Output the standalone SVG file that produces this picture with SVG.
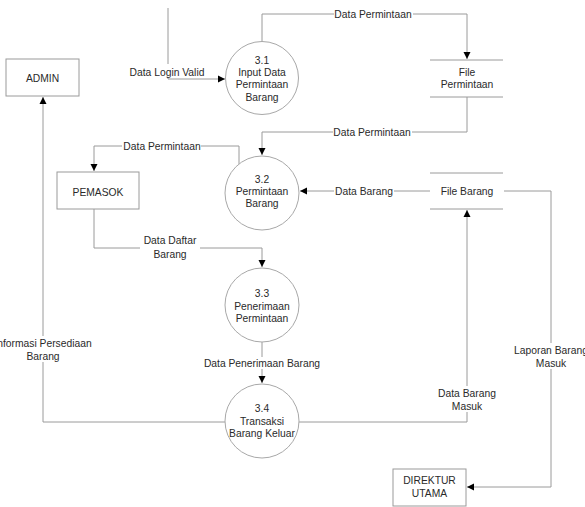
<svg xmlns="http://www.w3.org/2000/svg" width="585" height="507" viewBox="0 0 585 507">
<defs>
<style>
text{font-family:"Liberation Sans",Arial,sans-serif;font-size:10.3px;fill:#2a2a2a;text-anchor:middle}
.ln{fill:none;stroke:#9a9a9a;stroke-width:1}
.proc{fill:#fff;stroke:#a8a8a8;stroke-width:1}
.ent{fill:#fff;stroke:#9a9a9a;stroke-width:1}
.bg{fill:#fff;stroke:none}
</style>
<marker id="ar" markerWidth="8" markerHeight="8" refX="7" refY="4" orient="auto" markerUnits="userSpaceOnUse">
<path d="M0,0.5 L7,4 L0,7.5 Z" fill="#000"/>
</marker>
</defs>
<rect width="585" height="507" fill="#fff"/>
<g id="connectors">
<path class="ln" d="M168,8 V79 H225" marker-end="url(#ar)"/>
<path class="ln" d="M262,42 V14 H467 V59" marker-end="url(#ar)"/>
<path class="ln" d="M467,97 V132 H262 V155" marker-end="url(#ar)"/>
<path class="ln" d="M239,164 V146 H94 V171" marker-end="url(#ar)"/>
<path class="ln" d="M430,191 H300" marker-end="url(#ar)"/>
<path class="ln" d="M94,209 V248 H262 V267" marker-end="url(#ar)"/>
<path class="ln" d="M262,342 V383" marker-end="url(#ar)"/>
<path class="ln" d="M225,422 H43 V97" marker-end="url(#ar)"/>
<path class="ln" d="M299,422 H467 V210" marker-end="url(#ar)"/>
<path class="ln" d="M504,191 H551 V487 H467" marker-end="url(#ar)"/>
<g id="labels">
<rect class="bg" x="128" y="64" width="78" height="13"/>
<text x="167" y="75.5">Data Login Valid</text>
<rect class="bg" x="334" y="8" width="79" height="12"/>
<text x="373" y="17.5">Data Permintaan</text>
<rect class="bg" x="333" y="126" width="79" height="12"/>
<text x="372" y="135.5">Data Permintaan</text>
<rect class="bg" x="122" y="140" width="79" height="12"/>
<text x="162" y="149.5">Data Permintaan</text>
<rect class="bg" x="334" y="185" width="60" height="12"/>
<text x="364" y="194.5">Data Barang</text>
<rect class="bg" x="140" y="234" width="60" height="26"/>
<text x="170" y="243.5">Data Daftar</text>
<text x="170" y="257.5">Barang</text>
<rect class="bg" x="202" y="357" width="120" height="12"/>
<text x="262" y="366.5">Data Penerimaan Barang</text>
<rect class="bg" x="-10" y="336" width="106" height="26"/>
<text x="43" y="346.5">Informasi Persediaan</text>
<text x="43" y="360">Barang</text>
<rect class="bg" x="436" y="386" width="62" height="26"/>
<text x="467" y="396.5">Data Barang</text>
<text x="467" y="410">Masuk</text>
<rect class="bg" x="512" y="343" width="80" height="26"/>
<text x="551" y="353.5">Laporan Barang</text>
<text x="551" y="367">Masuk</text>
</g>
</g>
<g id="admin">
<rect class="ent" x="6" y="59" width="73" height="37"/>
<text x="42.5" y="81.5">ADMIN</text>
</g>
<g id="pemasok">
<rect class="ent" x="57" y="172" width="82" height="37"/>
<text x="98" y="195.5">PEMASOK</text>
</g>
<g id="direktur">
<rect class="ent" x="393" y="469" width="73" height="37"/>
<text x="429.5" y="484">DIREKTUR</text>
<text x="429.5" y="497">UTAMA</text>
</g>
<g id="p31">
<circle class="proc" cx="262" cy="78" r="36.5"/>
<text x="262" y="63.7">3.1</text>
<text x="262" y="76">Input Data</text>
<text x="262" y="88.3">Permintaan</text>
<text x="262" y="100.6">Barang</text>
</g>
<g id="p32">
<circle class="proc" cx="262" cy="193" r="37"/>
<text x="262" y="183">3.2</text>
<text x="262" y="195">Permintaan</text>
<text x="262" y="207">Barang</text>
</g>
<g id="p33">
<circle class="proc" cx="262" cy="305" r="37"/>
<text x="262" y="297">3.3</text>
<text x="262" y="309.5">Penerimaan</text>
<text x="262" y="322">Permintaan</text>
</g>
<g id="p34">
<circle class="proc" cx="262" cy="421" r="37"/>
<text x="262" y="412">3.4</text>
<text x="262" y="424.5">Transaksi</text>
<text x="262" y="437">Barang Keluar</text>
</g>
<g id="file-permintaan">
<path class="ln" d="M430,60 H503 M430,97 H503"/>
<text x="467" y="75.5">File</text>
<text x="467" y="87.5">Permintaan</text>
</g>
<g id="file-barang">
<path class="ln" d="M430,173 H503 M430,209 H503"/>
<text x="467" y="195">File Barang</text>
</g>
</svg>
